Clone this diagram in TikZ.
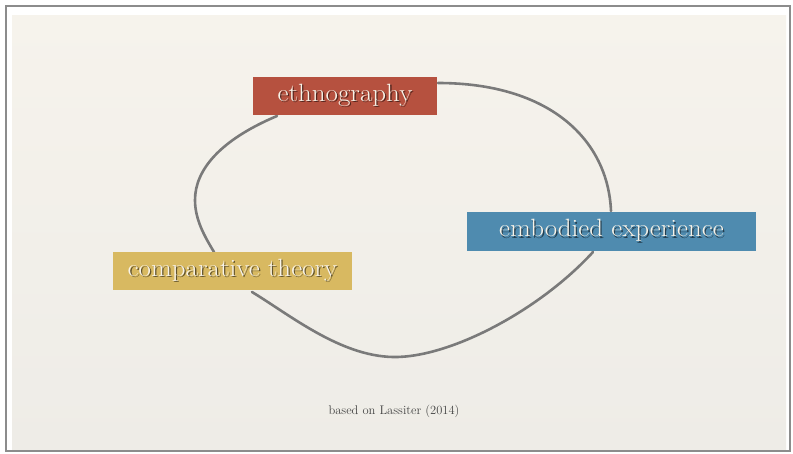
\documentclass[tikz,border=0pt]{standalone}
\usetikzlibrary{calc,backgrounds}
\definecolor{ethred}{HTML}{B6513F}
\definecolor{embblue}{HTML}{4F8BAF}
\definecolor{compyel}{HTML}{D8B961}
\definecolor{boxtext}{HTML}{F8F3E8}
\definecolor{loopgray}{HTML}{7A7A7A}
\definecolor{slidetop}{HTML}{F6F3EC}
\definecolor{slidebot}{HTML}{EEECE7}
\definecolor{framegray}{HTML}{8C8C8C}
\definecolor{notegray}{HTML}{444444}
\tikzset{
  labelbox/.style={inner sep=0pt, outer sep=0pt, draw=none},
  boxtxt/.style={inner sep=0pt, text=boxtext, font=\fontsize{25}{30}\selectfont},
  loopline/.style={draw=loopgray, line width=2.6pt, line cap=round},
}
% text with a drop shadow, in one box
\newcommand{\shtxt}[2]{\scalebox{1.08}[1]{\makebox[0pt][l]{\hspace{1.2pt}\raisebox{-1.5pt}{\color{#1}#2}}#2}}
\begin{document}
\begin{tikzpicture}[x=1pt,y=-1pt]
\useasboundingbox (0,0) rectangle (793,453);
% boxes
\node[labelbox, fill=ethred, minimum width=184pt, minimum height=38pt] (eth) at (345,96) {};
\node[labelbox, fill=embblue, minimum width=289pt, minimum height=39pt] (emb) at (611.5,231.5) {};
\node[labelbox, fill=compyel, minimum width=239pt, minimum height=38pt] (comp) at (232.5,271) {};
% texts
\node[boxtxt] (ethT) at (eth.center) {\shtxt{ethred!45!black}{ethnography}};
\node[boxtxt] (embT) at (emb.center) {\shtxt{embblue!45!black}{embodied experience}};
\node[boxtxt] (compT) at (comp.center) {\shtxt{compyel!45!black}{comparative theory}};
% note
\node[inner sep=0pt, text=notegray, font=\fontsize{12.5}{15}\selectfont] (note) at (394,411) {based on Lassiter (2014)};
% background and loop
\begin{pgfonlayer}{background}
\fill[white] (0,0) rectangle (793,453);
\draw[framegray, line width=2.4pt] (6,6) rectangle (790,451);
\shade[top color=slidetop, bottom color=slidebot] (12,15) rectangle (786,449);
\draw[loopline] ($(eth.south west)+(24,1)$) .. controls (220,140) and (195,170) .. (195,200)
  .. controls (195,220) and (205,237) .. ($(comp.north west)+(101,0)$);
\draw[loopline] ($(eth.north east)+(1,6)$) .. controls (550,83) and (608,140) .. ($(emb.north west)+(144,-1)$);
\draw[loopline] ($(comp.south west)+(139,2)$) .. controls (290,315) and (340,356) .. (393,357)
  .. controls (450,358) and (540,310) .. ($(emb.south west)+(126,1)$);
\end{pgfonlayer}
\end{tikzpicture}
\end{document}
